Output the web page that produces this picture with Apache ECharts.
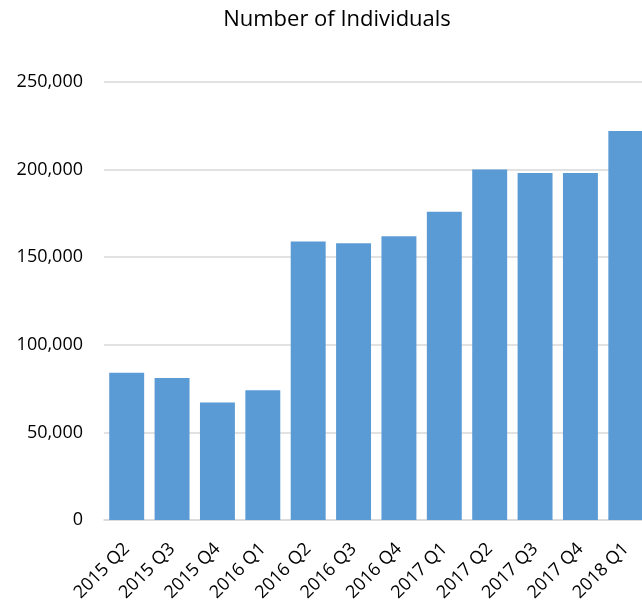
<!DOCTYPE html>
<html>
<head>
<meta charset="utf-8">
<script src="https://cdn.jsdelivr.net/npm/echarts@6/dist/echarts.min.js"></script>
<style>
html,body{margin:0;padding:0;background:#fff;}
#chart{width:642px;height:600px;}
</style>
</head>
<body>
<div id="chart"></div>
<script>
const categories = ['2015 Q2','2015 Q3','2015 Q4','2016 Q1','2016 Q2','2016 Q3','2016 Q4','2017 Q1','2017 Q2','2017 Q3','2017 Q4','2018 Q1'];
const individuals = [84000, 81000, 67000, 74000, 159000, 158000, 162000, 176000, 200000, 198000, 198000, 222000];
const yTicks = [0, 50000, 100000, 150000, 200000, 250000];

const chart = echarts.init(document.getElementById('chart'), null, {renderer: 'canvas'});
const font = '"Open Sans", "Liberation Sans", sans-serif';
chart.setOption({
  animation: false,
  backgroundColor: '#ffffff',
  title: {
    text: 'Number of Individuals',
    left: 332, top: 4, textAlign: 'center',
    textStyle: {fontFamily: font, fontSize: 22, fontWeight: 'normal', color: '#000'}
  },
  grid: {left: 104, top: 82, width: 544.5, height: 438, outerBoundsMode: 'none', containLabel: false},
  xAxis: {
    type: 'category',
    data: categories,
    axisLine: {show: true, lineStyle: {color: '#D9D9D9', width: 1.5}},
    axisTick: {show: false},
    axisLabel: {rotate: 45, margin: 26, interval: 0, fontFamily: font, fontSize: 18, color: '#000'}
  },
  yAxis: {
    type: 'value',
    min: yTicks[0], max: yTicks[yTicks.length - 1], interval: 50000,
    axisLine: {show: false},
    axisTick: {show: false},
    splitLine: {lineStyle: {color: '#D9D9D9', width: 1.5}},
    axisLabel: {
      margin: 21, fontFamily: font, fontSize: 18, color: '#000',
      formatter: v => v.toLocaleString('en-US')
    }
  },
  series: [{
    type: 'bar',
    data: individuals,
    barCategoryGap: '23%',
    itemStyle: {color: '#5B9BD5'}
  }]
});
</script>
</body>
</html>
